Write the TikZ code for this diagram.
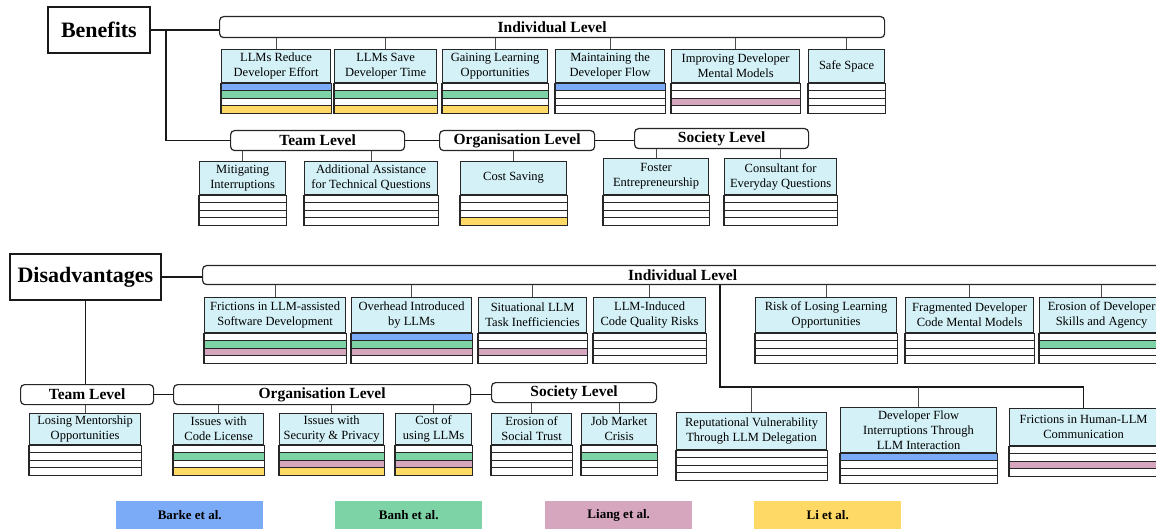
\documentclass[tikz,border=0pt]{standalone}
\usepackage{fontspec}
\setmainfont{Liberation Serif}
\definecolor{hdcyan}{HTML}{D3F1F6}
\definecolor{refblue}{HTML}{7BAAF7}
\definecolor{refgreen}{HTML}{7DD3A5}
\definecolor{refpink}{HTML}{D5A6BD}
\definecolor{refyellow}{HTML}{FFD966}
\tikzset{
  themebox/.style={draw=black!85, line width=1.2pt, fill=hdcyan, inner sep=0pt, anchor=north west,
    align=center, font=\fontsize{12.5}{15}\selectfont},
  stripe/.style={draw=black!85, line width=1.2pt},
  levelbox/.style={draw=black!85, line width=1.2pt, rounded corners=4pt, fill=white, inner sep=0pt,
    anchor=north west, font=\fontsize{15.5}{18}\selectfont\bfseries},
  titlebox/.style={draw=black!90, line width=1.8pt, inner sep=0pt, anchor=north west,
    font=\fontsize{22}{26}\selectfont\bfseries},
  legendbox/.style={inner sep=0pt, anchor=north west, minimum width=147pt, minimum height=28pt,
    font=\fontsize{13}{15}\selectfont\bfseries},
  link/.style={draw=black!90, line width=1.4pt},
  stub/.style={draw=black!70, line width=1.1pt},
}
% theme cell: name, x, y, width, header height, text, stripe colours
\newcommand{\themecell}[7]{%
  \node[themebox, minimum width=#4pt, minimum height=#5pt] (#1) at (#2,#3) {#6};
  \foreach \col [count=\i] in {#7}
    \draw[stripe, fill=\col] ([yshift={(1-\i)*7.5pt}]#1.south west) rectangle ([yshift={-\i*7.5pt}]#1.south east);
}
\begin{document}
\begin{tikzpicture}[x=1pt,y=-1pt]
  \useasboundingbox (0,0) rectangle (1156,529);

  % benefits
  \node[titlebox, minimum width=102pt, minimum height=46pt] (btitle) at (47,6) {Benefits};
  \node[levelbox, minimum width=665pt, minimum height=21pt] (bind) at (219,16) {Individual Level};
  \node[levelbox, minimum width=174pt, minimum height=20pt] (bteam) at (230,130) {Team Level};
  \node[levelbox, minimum width=155pt, minimum height=20pt] (borg) at (439,130) {Organisation Level};
  \node[levelbox, minimum width=174pt, minimum height=20pt] (bsoc) at (634,128) {Society Level};

  \themecell{bred}{221}{49}{109}{33}{LLMs Reduce\\Developer Effort}{refblue,refgreen,white,refyellow}
  \themecell{bsave}{334}{49}{102}{33}{LLMs Save\\Developer Time}{white,refgreen,white,refyellow}
  \themecell{blearn}{442}{49}{105}{33}{Gaining Learning\\Opportunities}{white,refgreen,white,refyellow}
  \themecell{bflow}{555}{49}{109}{33}{Maintaining the\\Developer Flow}{refblue,white,white,white}
  \themecell{bmodel}{671}{49}{128}{33}{Improving Developer\\Mental Models}{white,white,refpink,white}
  \themecell{bsafe}{808}{49}{76}{33}{Safe Space}{white,white,white,white}
  \themecell{bmit}{199}{161}{86}{33}{Mitigating\\Interruptions}{white,white,white,white}
  \themecell{bassist}{304}{161}{133}{33}{Additional Assistance\\for Technical Questions}{white,white,white,white}
  \themecell{bcost}{460}{161}{106}{33}{Cost Saving}{white,white,white,refyellow}
  \themecell{bfoster}{603}{158}{105}{36}{Foster\\Entrepreneurship}{white,white,white,white}
  \themecell{bconsult}{724}{158}{112}{36}{Consultant for\\Everyday Questions}{white,white,white,white}

  \coordinate (bsplit) at (166,29);
  \draw[link] (btitle.east) -- (btitle.east -| bind.west);
  \draw[link] (bsplit) |- (bteam.west);
  \draw[link] (bteam.east) -- (borg.west);
  \draw[link] (borg.east) -- (borg.east -| bsoc.west);
  \foreach \n in {bred,bsave,blearn,bflow,bmodel,bsafe}
    \draw[stub] (\n.north) -- (\n.north |- bind.south);
  \foreach \n in {bmit,bassist}
    \draw[stub] (\n.north) -- (\n.north |- bteam.south);
  \draw[stub] (bcost.north) -- (bcost.north |- borg.south);
  \foreach \n in {bfoster,bconsult}
    \draw[stub] (\n.north) -- (\n.north |- bsoc.south);

  % disadvantages
  \node[titlebox, minimum width=151pt, minimum height=46pt] (dtitle) at (9,253) {Disadvantages};
  \node[levelbox, minimum width=960pt, minimum height=19pt] (dind) at (202,265) {Individual Level};
  \node[levelbox, minimum width=133pt, minimum height=20pt] (dteam) at (20,384) {Team Level};
  \node[levelbox, minimum width=297pt, minimum height=20pt] (dorg) at (173,384) {Organisation Level};
  \node[levelbox, minimum width=165pt, minimum height=20pt] (dsoc) at (491,382) {Society Level};

  \themecell{dfric}{204}{297}{141}{35}{Frictions in LLM-assisted\\Software Development}{white,refgreen,refpink,white}
  \themecell{dover}{351}{297}{120}{35}{Overhead Introduced\\by LLMs}{refblue,refgreen,refpink,white}
  \themecell{dsit}{478}{297}{108}{35}{Situational LLM\\Task Inefficiencies}{white,white,refpink,white}
  \themecell{dqual}{593}{297}{112}{35}{LLM-Induced\\Code Quality Risks}{white,white,white,white}
  \themecell{drisk}{755}{297}{141}{35}{Risk of Losing Learning\\Opportunities}{white,white,white,white}
  \themecell{dfrag}{905}{297}{128}{35}{Fragmented Developer\\Code Mental Models}{white,white,white,white}
  \themecell{deros}{1039}{297}{124}{35}{Erosion of Developer\\Skills and Agency}{white,refgreen,white,white}
  \themecell{drep}{676}{412}{150}{37}{Reputational Vulnerability\\Through LLM Delegation}{white,white,white,white}
  \themecell{dflowi}{840}{407}{156}{45}{Developer Flow\\Interruptions Through\\LLM Interaction}{refblue,white,white,white}
  \themecell{dhum}{1009}{408}{148}{37}{Frictions in Human-LLM\\Communication}{white,white,refpink,white}
  \themecell{dment}{29}{413}{111}{31}{Losing Mentorship\\Opportunities}{white,white,white,white}
  \themecell{dlic}{173}{413}{90}{31}{Issues with\\Code License}{white,refgreen,white,refyellow}
  \themecell{dsec}{279}{413}{104}{31}{Issues with\\Security \& Privacy}{white,refgreen,refpink,refyellow}
  \themecell{dcostl}{395}{413}{76}{31}{Cost of\\using LLMs}{white,refgreen,refpink,refyellow}
  \themecell{dtrust}{491}{413}{80}{31}{Erosion of\\Social Trust}{white,white,white,white}
  \themecell{djob}{581}{413}{75}{31}{Job Market\\Crisis}{white,refgreen,white,white}

  \coordinate (dsplit) at (720,387);
  \draw[link] (dtitle.east) -- (dtitle.east -| dind.west);
  \draw[link] (dtitle.south) -- (dtitle.south |- dteam.north);
  \draw[link] (dteam.east) -- (dorg.west);
  \draw[link] (dorg.east) -- (dorg.east -| dsoc.west);
  \draw[link] (dsplit |- dind.south) -- (dsplit) -| (dhum.north);
  \foreach \n in {drep,dflowi}
    \draw[stub] (\n.north) -- (\n.north |- dsplit);
  \foreach \n in {dfric,dover,dsit,dqual,drisk,dfrag,deros}
    \draw[stub] (\n.north) -- (\n.north |- dind.south);
  \draw[stub] (dment.north) -- (dment.north |- dteam.south);
  \foreach \n in {dlic,dsec,dcostl}
    \draw[stub] (\n.north) -- (\n.north |- dorg.south);
  \foreach \n in {dtrust,djob}
    \draw[stub] (\n.north) -- (\n.north |- dsoc.south);

  % legend
  \node[legendbox, fill=refblue] (lbarke) at (116,501) {Barke et al.};
  \node[legendbox, fill=refgreen] (lbanh) at (335,501) {Banh et al.};
  \node[legendbox, fill=refpink] (lliang) at (545,501) {Liang et al.};
  \node[legendbox, fill=refyellow] (lli) at (754,501) {Li et al.};
\end{tikzpicture}
\end{document}
